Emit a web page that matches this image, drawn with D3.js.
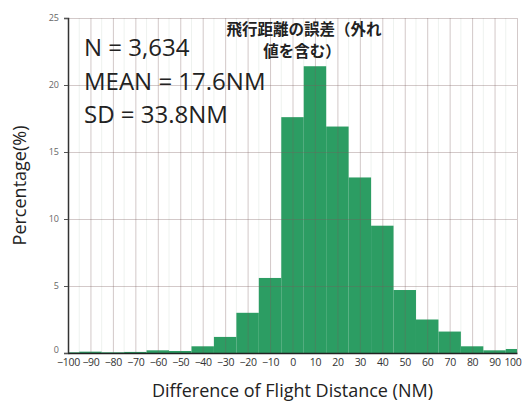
<!DOCTYPE html>
<html>
<head>
<meta charset="utf-8">
<script src="https://cdn.jsdelivr.net/npm/d3@7/dist/d3.min.js"></script>
<style>
  body { margin: 0; background: #fff; }
  svg { display: block; }
</style>
</head>
<body>
<svg id="chart" width="522" height="401"></svg>
<script>
// Histogram bins: centre of each 10 NM bin and its share of flights (%)
const binCenters = [-100, -90, -80, -70, -60, -50, -40, -30, -20, -10, 0, 10, 20, 30, 40, 50, 60, 70, 80, 90, 100];
const percentages = [0.05, 0.1, 0.05, 0.08, 0.2, 0.15, 0.5, 1.2, 3.0, 5.6, 17.6, 21.4, 16.9, 13.1, 9.5, 4.7, 2.5, 1.6, 0.5, 0.2, 0.3];
const binWidth = 10;

const xTicks = [-100, -90, -80, -70, -60, -50, -40, -30, -20, -10, 0, 10, 20, 30, 40, 50, 60, 70, 80, 90, 100];
const yTicks = [0, 5, 10, 15, 20, 25];

const statLines = ["N = 3,634", "MEAN = 17.6NM", "SD = 33.8NM"];
const titleLines = ["飛行距離の誤差（外れ", "値を含む）"];
const xTitle = "Difference of Flight Distance (NM)";
const yTitle = "Percentage(%)";

const margin = { left: 68, right: 5, top: 18, bottom: 48 };
const W = 522, H = 401;
const svg = d3.select("#chart");

const x = d3.scaleLinear().domain([-100, 100]).range([margin.left, W - margin.right]);
const y = d3.scaleLinear().domain([0, 25]).range([H - margin.bottom, margin.top]);

const latin = "'Open Sans', 'DejaVu Sans', sans-serif";

svg.append("defs").append("clipPath").attr("id", "plot")
  .append("rect")
  .attr("x", x(-100)).attr("y", y(25))
  .attr("width", x(100) - x(-100)).attr("height", y(0) - y(25));

// faint minor grid at bin edges
svg.append("g").selectAll("line").data(d3.range(-95, 100, 10)).join("line")
  .attr("x1", d => x(d)).attr("x2", d => x(d))
  .attr("y1", y(25)).attr("y2", y(0))
  .attr("stroke", "#eef2ef").attr("stroke-width", 1);

// bars
svg.append("g").attr("clip-path", "url(#plot)")
  .selectAll("rect").data(binCenters).join("rect")
  .attr("x", (d) => x(d - binWidth / 2))
  .attr("width", x(binWidth) - x(0))
  .attr("y", (d, i) => y(percentages[i]))
  .attr("height", (d, i) => y(0) - y(percentages[i]))
  .attr("fill", "#2c9d63");

// major grid drawn over the bars
const grid = svg.append("g");
grid.selectAll("line.v").data(xTicks).join("line")
  .attr("x1", d => x(d) + 0.5).attr("x2", d => x(d) + 0.5)
  .attr("y1", y(25)).attr("y2", y(0))
  .attr("stroke", "#7a5a5a").attr("stroke-opacity", 0.33).attr("stroke-width", 1);
grid.selectAll("line.h").data(yTicks.filter(d => d > 0)).join("line")
  .attr("x1", x(-100)).attr("x2", x(100))
  .attr("y1", d => y(d) + 0.5).attr("y2", d => y(d) + 0.5)
  .attr("stroke", "#7a5a5a").attr("stroke-opacity", 0.33).attr("stroke-width", 1);

// axes
const yAxis = svg.append("g").attr("transform", `translate(${margin.left},0)`)
  .call(d3.axisLeft(y).tickValues(yTicks).tickSize(4).tickPadding(5));
yAxis.select(".domain").attr("stroke", "#333").attr("stroke-width", 1.5);
yAxis.selectAll(".tick line").attr("stroke", "#555");
yAxis.selectAll("text").attr("font-family", latin).attr("font-size", 9).attr("fill", "#666")
  .attr("dy", (d) => d === 0 ? "-0.1em" : "0.32em");

const xAxis = svg.append("g").attr("transform", `translate(0,${y(0)})`)
  .call(d3.axisBottom(x).tickValues(xTicks).tickSize(0).tickPadding(6)
    .tickFormat(d => d < 0 ? "\u2212" + Math.abs(d) : String(d)));
xAxis.select(".domain").attr("stroke", "#222").attr("stroke-width", 1.5);
xAxis.selectAll("text").attr("font-family", latin).attr("font-size", 10.5)
  .attr("letter-spacing", -0.3).attr("fill", "#333");
// keep the last label inside the page edge
xAxis.selectAll(".tick text").filter(d => d === 100)
  .attr("text-anchor", "end").attr("x", W - x(100) - 1);

// summary statistics
svg.append("g").selectAll("text").data(statLines).join("text")
  .attr("x", 84).attr("y", (d, i) => 56 + i * 33.5)
  .attr("font-family", latin).attr("font-size", 24).attr("fill", "#222")
  .text(d => d);

// Japanese caption
svg.append("g").selectAll("text").data(titleLines).join("text")
  .attr("x", (d, i) => i === 0 ? 304 : 302).attr("y", (d, i) => 35 + i * 21.5)
  .attr("text-anchor", "middle")
  .attr("font-family", "'Noto Sans CJK JP', sans-serif").attr("font-weight", "bold")
  .attr("font-size", 15.5).attr("fill", "#222")
  .text(d => d);

// axis titles
svg.append("text")
  .attr("x", x(0)).attr("y", 397)
  .attr("text-anchor", "middle")
  .attr("font-family", latin).attr("font-size", 18).attr("fill", "#222")
  .text(xTitle);

svg.append("text")
  .attr("transform", `translate(26,${(y(0) + y(25)) / 2}) rotate(-90)`)
  .attr("text-anchor", "middle")
  .attr("font-family", latin).attr("font-size", 18).attr("fill", "#222")
  .text(yTitle);
</script>
</body>
</html>
